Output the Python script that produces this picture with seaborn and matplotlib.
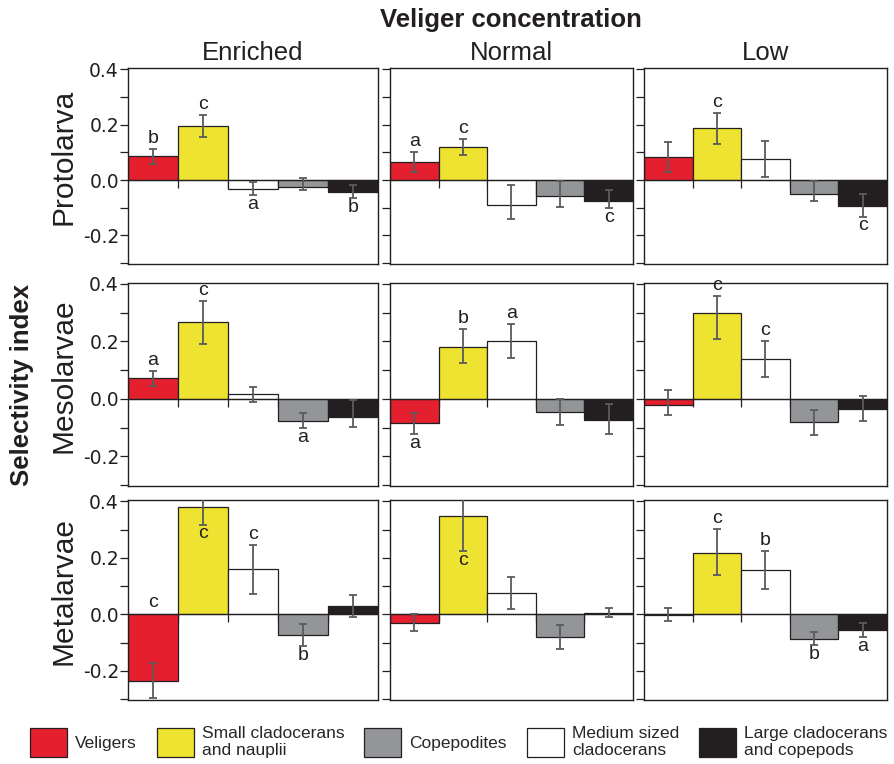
import numpy as np
import pandas as pd
import matplotlib
matplotlib.use("Agg")
import matplotlib.pyplot as plt
from matplotlib.patches import Patch
from matplotlib import font_manager
import seaborn as sns

# ---------------- data ----------------
categories = ["Veligers", "Small cladocerans\nand nauplii", "Medium sized\ncladocerans",
              "Copepodites", "Large cladocerans\nand copepods"]
legend_order = ["Veligers", "Small cladocerans\nand nauplii", "Copepodites",
                "Medium sized\ncladocerans", "Large cladocerans\nand copepods"]
bar_colors = ["#E4202F", "#EEE331", "#FFFFFF", "#939598", "#231F20"]
concentrations = ["Enriched", "Normal", "Low"]
stages = ["Protolarva", "Mesolarvae", "Metalarvae"]

# rows: Enriched, Normal, Low ; columns follow `categories`
proto_values = [[0.088, 0.196, -0.032, -0.024, -0.044],
                [0.066, 0.120, -0.090, -0.059, -0.074],
                [0.083, 0.188, 0.077, -0.050, -0.092]]
proto_lower = [[0.060, 0.156, -0.054, -0.036, -0.064],
               [0.031, 0.091, -0.140, -0.096, -0.102],
               [0.028, 0.132, 0.012, -0.075, -0.132]]
proto_upper = [[0.113, 0.234, -0.008, 0.008, -0.018],
               [0.102, 0.149, -0.018, -0.004, -0.034],
               [0.137, 0.241, 0.141, -0.004, -0.050]]
proto_letters = [["b", "c", "a", "", "b"],
                 ["a", "c", "", "", "c"],
                 ["", "c", "", "", "c"]]

meso_values = [[0.074, 0.266, 0.016, -0.076, -0.064],
               [-0.083, 0.179, 0.201, -0.047, -0.075],
               [-0.021, 0.298, 0.138, -0.080, -0.036]]
meso_lower = [[0.044, 0.192, -0.012, -0.102, -0.097],
              [-0.122, 0.124, 0.142, -0.091, -0.123],
              [-0.055, 0.210, 0.076, -0.125, -0.077]]
meso_upper = [[0.098, 0.341, 0.042, -0.049, -0.005],
              [-0.048, 0.244, 0.262, -0.002, -0.018],
              [0.032, 0.357, 0.201, -0.037, 0.011]]
meso_letters = [["a", "c", "", "a", ""],
                ["a", "b", "a", "", ""],
                ["", "c", "c", "", ""]]

meta_values = [[-0.234, 0.381, 0.160, -0.072, 0.030],
               [-0.032, 0.350, 0.075, -0.080, 0.006],
               [-0.003, 0.217, 0.157, -0.086, -0.056]]
meta_lower = [[-0.296, 0.318, 0.073, -0.112, -0.009],
              [-0.060, 0.223, 0.018, -0.123, -0.010],
              [-0.023, 0.140, 0.089, -0.108, -0.080]]
meta_upper = [[-0.173, 0.444, 0.246, -0.034, 0.069],
              [0.001, 0.477, 0.131, -0.038, 0.023],
              [0.021, 0.302, 0.224, -0.063, -0.030]]
meta_letters = [["c", "c", "c", "b", ""],
                ["", "c", "", "", ""],
                ["", "c", "b", "b", "a"]]

y_ticks = [-0.3, -0.2, -0.1, 0.0, 0.1, 0.2, 0.3, 0.4]
y_ticklabels = ["", "-0.2", "", "0.0", "", "0.2", "", "0.4"]

stage_values = [proto_values, meso_values, meta_values]
stage_lower = [proto_lower, meso_lower, meta_lower]
stage_upper = [proto_upper, meso_upper, meta_upper]
stage_letters = [proto_letters, meso_letters, meta_letters]

# letter placement overrides (stage row, concentration col, category index)
letter_place = {(2, 0, 0): "zero", (2, 0, 1): "below", (2, 1, 1): "below"}

# ---------------- style ----------------
sns.set_style("ticks")
plt.rcParams["font.family"] = ["Liberation Sans", "DejaVu Sans"]
DARK = "#231F20"

W, H = 895, 764
fig = plt.figure(figsize=(W / 100, H / 100), dpi=100)

col_left = [128, 390, 644]
col_width = [250, 243, 243]
row_top = [68, 282.5, 500]
row_height = [196, 203.5, 200]

for r in range(3):
    for c in range(3):
        rect = [col_left[c] / W, 1 - (row_top[r] + row_height[r]) / H,
                col_width[c] / W, row_height[r] / H]
        ax = fig.add_axes(rect)
        vals = np.array(stage_values[r][c])
        lo = np.array(stage_lower[r][c])
        hi = np.array(stage_upper[r][c])
        df = pd.DataFrame({"category": categories, "value": vals})
        sns.barplot(data=df, x="category", y="value", hue="category",
                    order=categories, hue_order=categories, palette=bar_colors,
                    saturation=1, width=1.0, dodge=False, legend=False,
                    edgecolor=DARK, linewidth=0.9, errorbar=None, ax=ax, zorder=2)
        xs = np.arange(len(categories))
        # small ticks at bar boundaries on the zero line
        ax.vlines(xs[:-1] + 0.5, -0.027, 0, color=DARK, lw=0.9, zorder=1)
        ax.axhline(0, color=DARK, lw=0.9, zorder=2.5)
        ax.errorbar(xs, vals, yerr=[vals - lo, hi - vals], fmt="none",
                    ecolor="#5A5B5D", elinewidth=1.3, capsize=3.2, capthick=1.3,
                    zorder=4)
        for i, letter in enumerate(stage_letters[r][c]):
            if not letter:
                continue
            place = letter_place.get((r, c, i), "above" if vals[i] >= 0 else "below")
            if place == "above":
                ax.annotate(letter, (xs[i], hi[i]), xytext=(0, 1.5),
                            textcoords="offset points", ha="center", va="bottom",
                            fontsize=14, color="#231F20", zorder=5)
            elif place == "below":
                ax.annotate(letter, (xs[i], lo[i]), xytext=(0, -0.5),
                            textcoords="offset points", ha="center", va="top",
                            fontsize=14, color="#231F20", zorder=5)
            else:
                ax.annotate(letter, (xs[i], 0), xytext=(0, 2.5),
                            textcoords="offset points", ha="center", va="bottom",
                            fontsize=14, color="#231F20", zorder=5)
        ax.set_xlim(-0.5, len(categories) - 0.5)
        ax.set_ylim(-0.303, 0.405)
        ax.set_yticks(y_ticks)
        ax.set_yticklabels(y_ticklabels if c == 0 else [""] * len(y_ticks))
        ax.tick_params(axis="y", direction="out", length=5.5, width=0.9, pad=1,
                       labelsize=13.5, colors=DARK, labelcolor="#231F20")
        for lab in ax.get_yticklabels():
            lab.set_fontfamily("DejaVu Sans")
        ax.tick_params(axis="x", length=0, labelbottom=False)
        ax.set_xlabel("")
        ax.set_ylabel("")
        for sp in ax.spines.values():
            sp.set_visible(True)
            sp.set_color(DARK)
            sp.set_linewidth(1.0)
        if c == 0:
            cy = row_top[r] + row_height[r] / 2 - 9
            fig.text(64 / W, 1 - cy / H, stages[r], rotation=90, ha="center",
                     va="center", fontsize=21.5, color="#231F20")
        if r == 0:
            cx = col_left[c] + col_width[c] / 2
            fig.text(cx / W, 1 - 60 / H, concentrations[c], ha="center",
                     va="baseline", fontsize=18.5, color="#231F20")

fig.text(511 / W, 1 - 27 / H, "Veliger concentration", ha="center", va="baseline",
         fontsize=18.5, fontweight="bold", color="#231F20")
fig.text(22 / W, 1 - 385 / H, "Selectivity index", rotation=90, ha="center",
         va="center", fontsize=18.5, fontweight="bold", color="#231F20")

# ---------------- legend ----------------
leg_prop = font_manager.FontProperties(family="Liberation Sans", size=12.5)
fs_px = leg_prop.get_size_in_points() * 100 / 72
color_of = dict(zip(categories, bar_colors))
handles = [Patch(facecolor=color_of[k], edgecolor=DARK, linewidth=0.9) for k in legend_order]
fig.legend(handles, legend_order, loc="center left",
           bbox_to_anchor=(30 / W, 1 - 742 / H), ncol=5, frameon=False,
           prop=leg_prop, handlelength=37 / fs_px, handleheight=38 / fs_px,
           handletextpad=8 / fs_px, columnspacing=20 / fs_px, borderpad=0,
           borderaxespad=0, labelspacing=0)

fig.savefig("out.png", dpi=100)
